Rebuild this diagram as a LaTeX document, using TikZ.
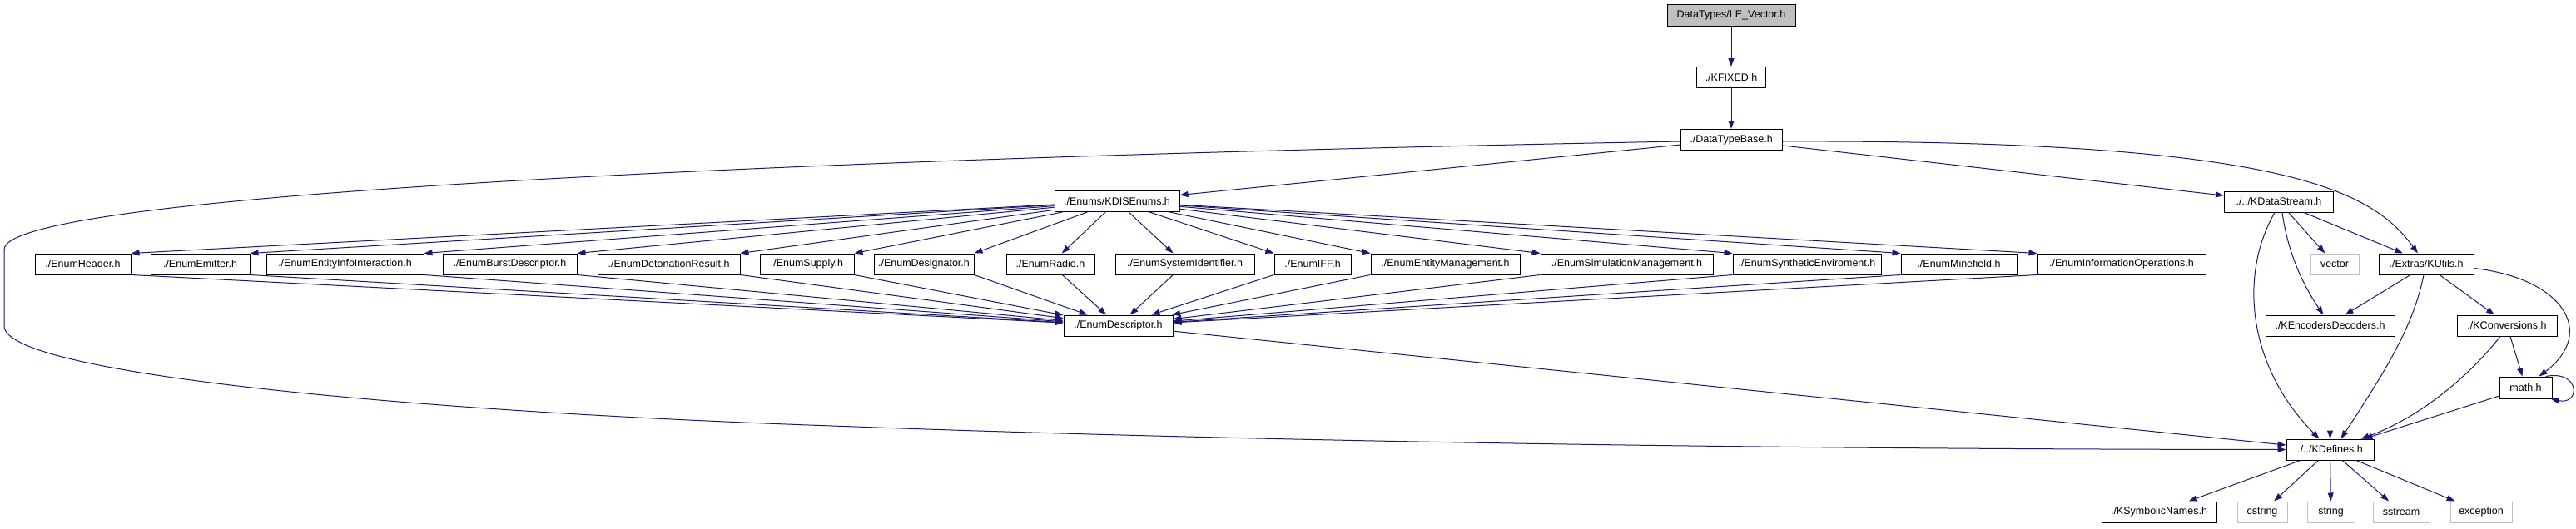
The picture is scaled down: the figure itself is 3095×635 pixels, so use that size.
\documentclass[tikz,border=0pt]{standalone}
\usepackage{fontspec}
\setmainfont{Liberation Sans}
\usetikzlibrary{arrows.meta}

\definecolor{edgeblue}{RGB}{25,25,112}
\definecolor{sysgray}{RGB}{191,191,191}

\begin{document}
\begin{tikzpicture}[x=1pt, y=-1pt,
    file/.style={draw=black, fill=white, line width=1pt, minimum height=25pt, inner sep=0pt,
        font=\fontsize{12.5}{14}\selectfont},
    sysfile/.style={file, draw=sysgray},
    rootfile/.style={file, fill=sysgray},
    edge/.style={draw=edgeblue, line width=1pt, -{Triangle[length=10pt, width=7pt]}}]
    \useasboundingbox (0,0) rectangle (3095,635);

    % Top chain
    \node[rootfile, minimum width=154pt, minimum height=26pt] (levector) at (2080,18.5) {DataTypes/LE\_Vector.h};
    \node[file, minimum width=83pt] (kfixed) at (2080,93) {./KFIXED.h};
    \node[file, minimum width=122pt] (dtbase) at (2080,168) {./DataTypeBase.h};
    \node[file, minimum width=150pt] (kdis) at (1342,242) {./Enums/KDISEnums.h};
    \node[file, minimum width=131pt] (kstream) at (2738,242.5) {./../KDataStream.h};

    % Enum headers
    \node[file, minimum width=115pt] (eheader) at (99.5,317.5) {./EnumHeader.h};
    \node[file, minimum width=119pt] (eemitter) at (240.5,317.5) {./EnumEmitter.h};
    \node[file, minimum width=189pt] (einfo) at (414.5,317.5) {./EnumEntityInfoInteraction.h};
    \node[file, minimum width=161pt] (eburst) at (612.5,317.5) {./EnumBurstDescriptor.h};
    \node[file, minimum width=171pt] (edeton) at (803.5,317.5) {./EnumDetonationResult.h};
    \node[file, minimum width=113pt] (esupply) at (969.5,317.5) {./EnumSupply.h};
    \node[file, minimum width=120pt] (edesig) at (1110,317.5) {./EnumDesignator.h};
    \node[file, minimum width=106pt] (eradio) at (1262,317.5) {./EnumRadio.h};
    \node[file, minimum width=167pt] (esysid) at (1423.5,317.5) {./EnumSystemIdentifier.h};
    \node[file, minimum width=92pt] (eiff) at (1577,317.5) {./EnumIFF.h};
    \node[file, minimum width=179pt] (eentity) at (1736.5,317.5) {./EnumEntityManagement.h};
    \node[file, minimum width=207pt] (esimul) at (1954.5,317.5) {./EnumSimulationManagement.h};
    \node[file, minimum width=178pt] (esynth) at (2171,317.5) {./EnumSyntheticEnviroment.h};
    \node[file, minimum width=139pt] (emine) at (2353.5,317.5) {./EnumMinefield.h};
    \node[file, minimum width=202pt] (einfoop) at (2549,317.5) {./EnumInformationOperations.h};
    \node[file, minimum width=131pt] (edesc) at (1343.5,391.5) {./EnumDescriptor.h};

    % Stream and utils
    \node[sysfile, minimum width=58pt] (vector) at (2805,317.5) {vector};
    \node[file, minimum width=114pt] (kutils) at (2915,317.5) {./Extras/KUtils.h};
    \node[file, minimum width=155pt] (kenc) at (2799.5,391.5) {./KEncodersDecoders.h};
    \node[file, minimum width=120pt] (kconv) at (3012,391.5) {./KConversions.h};
    \node[file, minimum width=63pt, minimum height=26pt] (mathh) at (3034.5,466) {math.h};
    \node[file, minimum width=105pt] (kdef) at (2799.5,540.5) {./../KDefines.h};

    % Bottom row
    \node[file, minimum width=138pt] (ksym) at (2594,615.5) {./KSymbolicNames.h};
    \node[sysfile, minimum width=60pt] (cstring) at (2718,615.5) {cstring};
    \node[sysfile, minimum width=57pt] (string) at (2800.5,615.5) {string};
    \node[sysfile, minimum width=68pt] (sstream) at (2885,615.5) {sstream};
    \node[sysfile, minimum width=74pt] (exception) at (2981,615.5) {exception};

    % Edges
    \draw[edge] (levector) -- (kfixed);
    \draw[edge] (kfixed) -- (dtbase);
    \draw[edge] (dtbase) -- (kdis);
    \draw[edge] (dtbase) -- (kstream);
    \draw[edge] ([yshift=-2pt]dtbase.east) .. controls (2750,168) and (2850,230) .. ([xshift=-10pt]kutils.north);
    \draw[edge] ([yshift=-2pt]dtbase.west) .. controls (1200,185) and (5,225) .. (5,300)
        -- (5,392) .. controls (5,450) and (500,495) .. (1000,512)
        .. controls (1400,527) and (2000,540) .. (kdef.west);

    \foreach \e in {eheader, eemitter, einfo, eburst, edeton, esupply, edesig} {
        \draw[edge] (kdis) -- (\e.north east);
        \draw[edge] (\e.south east) -- (edesc);
    }
    \foreach \e in {eradio, esysid} {
        \draw[edge] (kdis) -- (\e);
        \draw[edge] (\e) -- (edesc);
    }
    \foreach \e in {eiff, eentity, esimul, esynth, emine, einfoop} {
        \draw[edge] (kdis) -- (\e.north west);
        \draw[edge] (\e.south west) -- (edesc);
    }
    \draw[edge] (edesc) -- (kdef);

    \draw[edge] (kstream) -- (vector);
    \draw[edge] ([xshift=30pt]kstream.south) -- ([xshift=-28pt]kutils.north);
    \draw[edge] ([xshift=4pt]kstream.south) .. controls (2748,300) and (2765,340) .. ([xshift=-8pt]kenc.north);
    \draw[edge] ([xshift=-5pt]kstream.south) .. controls (2690,330) and (2700,440) .. ([xshift=-13pt]kdef.north);

    \draw[edge] ([xshift=-19pt]kutils.south) -- ([xshift=18pt]kenc.north);
    \draw[edge] ([xshift=16pt]kutils.south) -- ([xshift=-15pt]kconv.north);
    \draw[edge] ([xshift=-3pt]kutils.south) .. controls (2900,390) and (2870,440) .. ([xshift=13pt]kdef.north);
    \draw[edge] ([yshift=-5pt]kutils.east) .. controls (3080,335) and (3120,400) .. ([xshift=16pt]mathh.north);

    \draw[edge] (kenc) -- (kdef);
    \draw[edge] ([xshift=-8pt]kconv.south) .. controls (2960,460) and (2900,505) .. ([xshift=37pt]kdef.north);
    \draw[edge] ([xshift=4pt]kconv.south) -- ([xshift=-4pt]mathh.north);
    \draw[edge] (mathh) -- (kdef);
    \draw[edge] ([xshift=-8pt]mathh.north east) .. controls ([xshift=34pt,yshift=8pt]mathh.north east)
        and ([xshift=34pt,yshift=-8pt]mathh.south east) .. ([xshift=-2pt]mathh.south east);

    \foreach \f in {ksym, cstring, string, sstream, exception}
        \draw[edge] (kdef) -- (\f);
\end{tikzpicture}
\end{document}
